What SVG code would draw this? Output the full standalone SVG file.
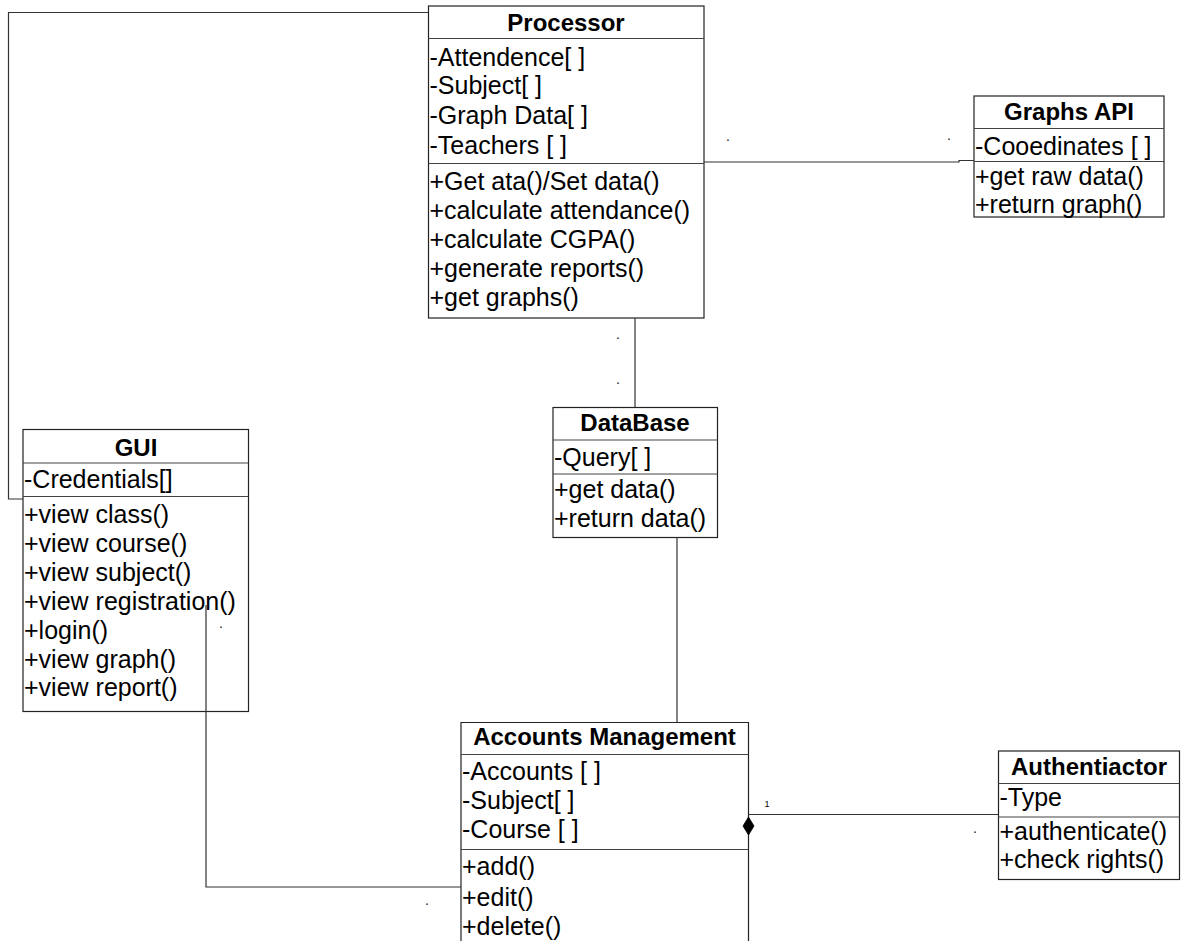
<svg xmlns="http://www.w3.org/2000/svg" width="1187" height="941" viewBox="0 0 1187 941">
  <style>
    .box { fill: #fff; stroke: #222; stroke-width: 1.2; }
    .sep { stroke: #444; stroke-width: 1.2; }
    .title { font-family: "Liberation Sans", Arial, sans-serif; font-size: 24px; font-weight: bold; fill: #000; text-anchor: middle; }
    .row { font-family: "Liberation Sans", Arial, sans-serif; font-size: 25px; fill: #000; }
    .conn { fill: none; stroke: #333; stroke-width: 1.2; }
    .mult { font-family: "Liberation Sans", Arial, sans-serif; font-size: 14px; fill: #222; text-anchor: middle; }
    .num { font-family: "Liberation Sans", Arial, sans-serif; font-size: 9px; fill: #000; text-anchor: middle; }
  </style>
  <rect width="1187" height="941" fill="#fff"/>

  <g id="processor">
    <rect class="box" x="428.5" y="6" width="275.5" height="312"/>
    <line class="sep" x1="428.5" y1="38.5" x2="704" y2="38.5"/>
    <line class="sep" x1="428.5" y1="163.5" x2="704" y2="163.5"/>
    <text class="title" x="566" y="31">Processor</text>
    <text class="row" x="429.5" y="66">-Attendence[ ]</text>
    <text class="row" x="429.5" y="94">-Subject[ ]</text>
    <text class="row" x="429.5" y="124">-Graph Data[ ]</text>
    <text class="row" x="429.5" y="154">-Teachers [ ]</text>
    <text class="row" x="429.5" y="190">+Get ata()/Set data()</text>
    <text class="row" x="429.5" y="219">+calculate attendance()</text>
    <text class="row" x="429.5" y="248">+calculate CGPA()</text>
    <text class="row" x="429.5" y="277">+generate reports()</text>
    <text class="row" x="429.5" y="306">+get graphs()</text>
  </g>

  <g id="graphs-api">
    <rect class="box" x="974" y="96" width="190" height="121"/>
    <line class="sep" x1="974" y1="128.5" x2="1164" y2="128.5"/>
    <line class="sep" x1="974" y1="161.5" x2="1164" y2="161.5"/>
    <text class="title" x="1069" y="120">Graphs API</text>
    <text class="row" x="975" y="155">-Cooedinates [ ]</text>
    <text class="row" x="975" y="185">+get raw data()</text>
    <text class="row" x="975" y="213">+return graph()</text>
  </g>

  <g id="gui">
    <rect class="box" x="23" y="429.5" width="225.5" height="282"/>
    <line class="sep" x1="23" y1="463" x2="248.5" y2="463"/>
    <line class="sep" x1="23" y1="496.5" x2="248.5" y2="496.5"/>
    <text class="title" x="136" y="456">GUI</text>
    <text class="row" x="24" y="488">-Credentials[]</text>
    <text class="row" x="24" y="523">+view class()</text>
    <text class="row" x="24" y="552">+view course()</text>
    <text class="row" x="24" y="581">+view subject()</text>
    <text class="row" x="24" y="610">+view registration()</text>
    <text class="row" x="24" y="639">+login()</text>
    <text class="row" x="24" y="668">+view graph()</text>
    <text class="row" x="24" y="696">+view report()</text>
  </g>

  <g id="database">
    <rect class="box" x="553" y="407.5" width="164.5" height="130"/>
    <line class="sep" x1="553" y1="440" x2="717.5" y2="440"/>
    <line class="sep" x1="553" y1="474" x2="717.5" y2="474"/>
    <text class="title" x="635" y="431">DataBase</text>
    <text class="row" x="554" y="466">-Query[ ]</text>
    <text class="row" x="554" y="498">+get data()</text>
    <text class="row" x="554" y="527">+return data()</text>
  </g>

  <g id="accounts-management">
    <path class="box" d="M461,960 V722.5 H748.5 V960"/>
    <line class="sep" x1="461" y1="754.5" x2="748.5" y2="754.5"/>
    <line class="sep" x1="461" y1="849.5" x2="748.5" y2="849.5"/>
    <text class="title" x="604.5" y="745">Accounts Management</text>
    <text class="row" x="462" y="780">-Accounts [ ]</text>
    <text class="row" x="462" y="809">-Subject[ ]</text>
    <text class="row" x="462" y="838">-Course [ ]</text>
    <text class="row" x="462" y="875">+add()</text>
    <text class="row" x="462" y="906">+edit()</text>
    <text class="row" x="462" y="935">+delete()</text>
  </g>

  <g id="authenticator">
    <rect class="box" x="998.5" y="751" width="181" height="128.5"/>
    <line class="sep" x1="998.5" y1="783.5" x2="1179.5" y2="783.5"/>
    <line class="sep" x1="998.5" y1="817" x2="1179.5" y2="817"/>
    <text class="title" x="1089" y="775">Authentiactor</text>
    <text class="row" x="999.5" y="806">-Type</text>
    <text class="row" x="999.5" y="840">+authenticate()</text>
    <text class="row" x="999.5" y="868">+check rights()</text>
  </g>

  <!-- associations, drawn over the class boxes -->
  <g id="connectors">
    <polyline class="conn" points="428.5,12.5 8.5,12.5 8.5,499 23,499"/>
    <polyline class="conn" points="704,162 959,162 959,160.5 974,160.5"/>
    <line class="conn" x1="635" y1="318" x2="635" y2="407"/>
    <line class="conn" x1="677" y1="537" x2="677" y2="722"/>
    <polyline class="conn" points="206,605 206,887 461,887"/>
    <line class="conn" x1="748.5" y1="814.5" x2="998.5" y2="814.5"/>
    <polygon points="748.5,817 754,826 748.5,835 743,826" fill="#000" stroke="#000" stroke-width="0.8"/>
    <text class="mult" x="728" y="140.5">.</text>
    <text class="mult" x="949" y="139.5">.</text>
    <text class="mult" x="618" y="338.5">.</text>
    <text class="mult" x="618" y="383.5">.</text>
    <text class="mult" x="221" y="627.5">.</text>
    <text class="mult" x="427" y="904.5">.</text>
    <text class="mult" x="975" y="832.5">.</text>
    <text class="num" x="767" y="807">1</text>
  </g>
</svg>
